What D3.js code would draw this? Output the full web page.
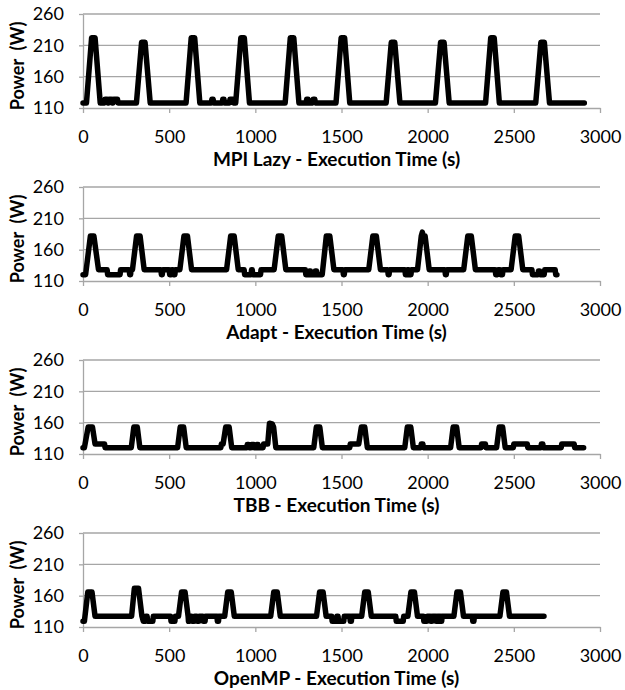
<!DOCTYPE html>
<html>
<head>
<meta charset="utf-8">
<script src="https://cdn.jsdelivr.net/npm/d3@7"></script>
<style>
  body { margin: 0; background: #fff; }
  text { font-family: Lato, "Open Sans", sans-serif; fill: #000; }
  .tick-label { font-size: 18px; }
  .title { font-size: 19px; font-weight: bold; }
  .ylabel { font-size: 18px; font-weight: bold; white-space: pre; }
</style>
</head>
<body>
<svg id="chart" width="625" height="690"></svg>
<script>
// Axis ticks
var xTicks = [0, 500, 1000, 1500, 2000, 2500, 3000];
var yTicks = [110, 160, 210, 260];

// Panel titles
var titles = [
    "MPI Lazy - Execution Time (s)",
    "Adapt - Execution Time (s)",
    "TBB - Execution Time (s)",
    "OpenMP - Execution Time (s)"
];

// Series, [time (s), power (W)]
var mpiLazy = [
    [0,118],[20,118],[50,222],[70,222],[100,118],
    [125,118],[128,124],[140,124],[143,118],[150,118],[153,124],[165,124],[168,118],[175,118],[178,124],[200,124],[203,118],
    [310,118],[340,215],[360,215],[390,118],
    [598,118],[628,222],[648,222],[678,118],
    [745,118],[748,124],[755,124],[758,118],[808,118],[811,124],[818,124],[821,118],[850,118],[853,124],[870,124],[873,118],
    [886,118],[916,222],[936,222],[966,118],
    [1173,118],[1203,222],[1223,222],[1253,118],
    [1295,118],[1298,124],[1306,124],[1309,118],[1333,118],[1336,124],[1345,124],[1348,118],
    [1468,118],[1498,222],[1518,222],[1548,118],
    [1759,118],[1789,215],[1809,215],[1839,118],
    [2045,118],[2075,215],[2095,215],[2125,118],
    [2336,118],[2366,222],[2386,222],[2416,118],
    [2627,118],[2657,215],[2677,215],[2707,118],
    [2909,118]
];

var adapt = [
    [0,120],[15,120],[43,182],[63,182],[90,128],
    [140,128],[143,120],[215,120],[218,128],[268,128],[271,120],[276,120],[279,128],[287,128],
    [311,182],[331,182],[355,128],
    [452,128],[455,120],[460,120],[463,128],[500,128],[503,120],[512,120],[515,128],[522,128],[525,120],[533,120],[536,128],[562,128],
    [586,182],[606,182],[630,128],
    [833,128],[857,182],[877,182],[901,128],
    [935,128],[938,120],[975,120],[978,128],[982,128],[985,120],[1030,120],[1033,128],[1109,128],
    [1133,182],[1153,182],[1177,128],
    [1290,128],[1293,120],[1310,120],[1313,126],[1320,126],[1323,120],[1345,120],[1348,126],[1355,126],[1358,120],[1388,120],
    [1412,182],[1432,182],[1456,128],
    [1508,128],[1511,120],[1516,120],[1519,128],[1658,128],
    [1682,182],[1702,182],[1726,128],
    [1768,128],[1771,120],[1776,120],[1779,128],[1868,128],[1871,120],[1880,120],[1883,128],[1890,128],[1893,120],[1903,120],[1906,128],[1941,128],
    [1963,182],[1969,188],[1975,182],[1985,182],[2009,128],
    [2100,128],[2103,120],[2108,120],[2111,128],[2209,128],
    [2233,182],[2253,182],[2277,128],
    [2392,128],[2395,120],[2405,120],[2408,128],[2420,128],[2423,120],[2434,120],[2437,128],[2484,128],
    [2508,182],[2528,182],[2552,128],
    [2605,128],[2608,120],[2640,120],[2643,126],[2650,126],[2653,120],[2676,120],[2679,128],[2740,128],[2743,120],[2750,120]
];

var tbb = [
    [0,120],[8,120],[30,153],[55,153],[70,126],[125,126],[128,120],
    [280,120],[295,153],[315,153],[330,120],
    [549,120],[564,153],[584,153],[599,120],
    [800,120],[803,126],[813,126],[828,153],[848,153],[863,120],
    [950,120],[953,125],[962,125],[965,120],[975,120],[978,125],[990,125],[993,120],[1005,120],[1008,125],[1016,125],[1019,120],
    [1045,120],[1048,126],[1072,126],[1082,159],[1098,158],[1106,153],[1119,120],
    [1339,120],[1354,153],[1374,153],[1389,120],
    [1548,120],[1551,126],[1600,126],[1615,153],[1635,153],[1650,120],
    [1867,120],[1882,153],[1902,153],[1917,120],
    [1960,120],[1963,126],[1972,126],[1975,120],
    [2133,120],[2148,153],[2168,153],[2183,120],
    [2310,120],[2313,126],[2335,126],[2338,120],
    [2400,120],[2415,153],[2435,153],[2450,120],
    [2497,120],[2500,126],[2578,126],[2581,120],
    [2657,120],[2660,126],[2668,126],[2671,120],
    [2775,120],[2778,126],[2850,126],[2853,120],[2905,120]
];

var openmp = [
    [0,119],[8,119],[28,166],[52,166],[70,127],
    [282,127],[298,172],[322,172],[342,127],[350,119],[362,119],[365,127],[372,127],[375,119],[405,119],[408,127],
    [508,127],[511,119],[533,119],[536,127],[554,127],
    [572,166],[592,166],[610,127],[612,119],[618,119],[621,127],
    [630,127],[633,119],[645,119],[648,127],[660,127],[663,119],[672,119],[675,127],[695,127],[698,119],[708,119],[711,127],
    [777,127],[780,119],[786,119],[789,127],[822,127],
    [840,166],[860,166],[878,127],
    [1089,127],[1107,166],[1127,166],[1145,127],
    [1355,127],[1373,166],[1393,166],[1411,127],
    [1443,127],[1446,119],[1470,119],[1473,127],[1480,127],[1483,119],[1513,119],[1516,127],[1548,127],[1551,119],[1557,119],[1560,127],
    [1617,127],[1635,166],[1655,166],[1673,127],
    [1815,127],[1818,119],[1858,119],[1861,127],
    [1885,127],[1903,166],[1923,166],[1941,127],
    [1975,127],[1978,119],[1995,119],[1998,127],[2015,127],[2018,119],[2025,119],[2028,127],[2046,127],[2049,119],[2055,119],[2058,127],[2072,127],[2075,119],[2081,119],[2084,127],
    [2152,127],[2170,166],[2190,166],[2208,127],
    [2259,127],[2262,119],[2268,119],[2271,127],
    [2419,127],[2437,166],[2457,166],[2475,127],[2675,127]
];

var seriesList = [mpiLazy, adapt, tbb, openmp];

// Layout
var left = 83;
var right = 600;
var firstTop = 14;
var panelStep = 173;
var plotHeight = 94;
var gridColor = "#a6a6a6";

var svg = d3.select("#chart");

var x = d3.scaleLinear().domain([0, 3000]).range([left, right]);

/**
 * Restyles the lines and labels d3 puts on an axis.
 */
function styleAxis(axisGroup)
{
    axisGroup.attr("font-family", null).attr("font-size", null);
    axisGroup.select(".domain").attr("stroke", gridColor).attr("stroke-width", 1.3);
    axisGroup.selectAll(".tick line").attr("stroke", gridColor).attr("stroke-width", 1.3);
    axisGroup.selectAll(".tick text").attr("class", "tick-label").attr("fill", "#000");
}

seriesList.forEach(function(data, i) {
    var top = firstTop + i * panelStep;
    var bottom = top + plotHeight;
    var y = d3.scaleLinear().domain([110, 260]).range([bottom, top]);
    var g = svg.append("g");

    // horizontal gridlines
    g.selectAll(".grid")
        .data(yTicks.slice(1))
        .enter()
        .append("line")
        .attr("x1", left)
        .attr("x2", right)
        .attr("y1", d => y(d))
        .attr("y2", d => y(d))
        .attr("stroke", gridColor)
        .attr("stroke-width", 1.3);

    // y axis
    var yAxis = g.append("g")
        .attr("transform", "translate(" + left + ",0)")
        .call(d3.axisLeft(y).tickValues(yTicks).tickSize(4).tickSizeOuter(0).tickPadding(15));
    styleAxis(yAxis);

    // x axis
    var xAxis = g.append("g")
        .attr("transform", "translate(0," + bottom + ")")
        .call(d3.axisBottom(x).tickValues(xTicks).tickFormat(d3.format("d"))
            .tickSize(5).tickSizeOuter(0).tickPadding(17));
    styleAxis(xAxis);

    // series line
    var line = d3.line()
        .x(d => x(d[0]))
        .y(d => y(d[1]));
    g.append("path")
        .datum(data)
        .attr("d", line)
        .attr("fill", "none")
        .attr("stroke", "#000")
        .attr("stroke-width", 5.5)
        .attr("stroke-linejoin", "round")
        .attr("stroke-linecap", "round");

    // titles
    g.append("text")
        .attr("class", "title")
        .attr("x", (left + right) / 2 - 5)
        .attr("y", bottom + 57.5)
        .attr("text-anchor", "middle")
        .text(titles[i]);
    g.append("text")
        .attr("class", "ylabel")
        .attr("transform", "translate(24," + ((top + bottom) / 2 + 5) + ") rotate(-90)")
        .attr("text-anchor", "middle")
        .text("Power  (W)");
});
</script>
</body>
</html>
